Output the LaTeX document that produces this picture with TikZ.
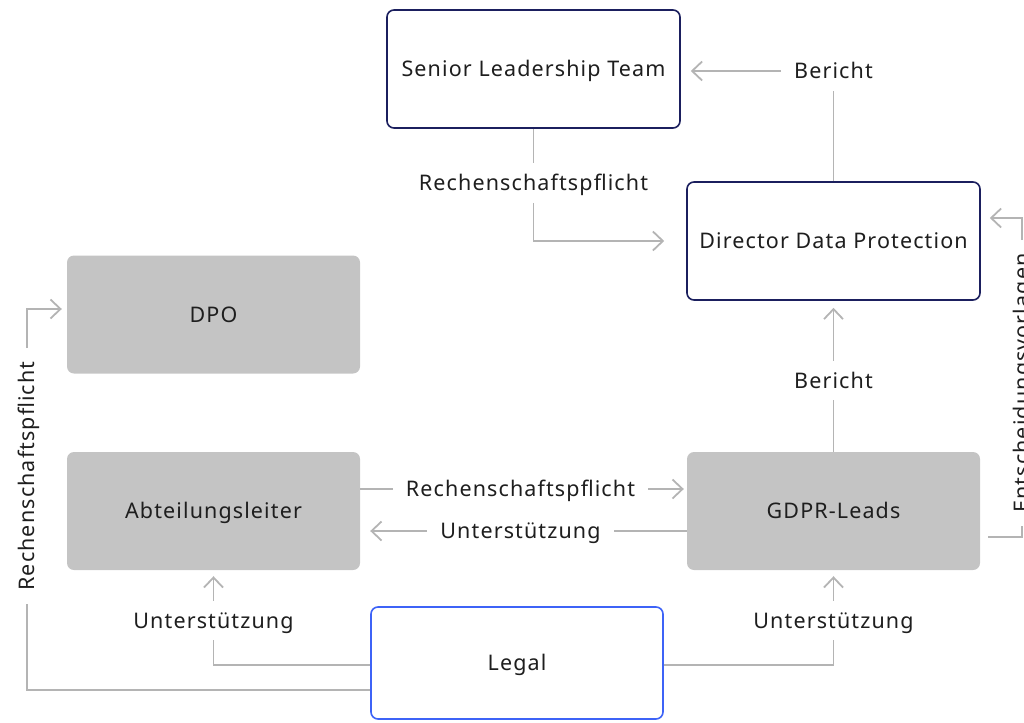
\documentclass[tikz,border=0pt]{standalone}
\usepackage{fontspec}
\setmainfont{Noto Sans}[LetterSpace=5.2]
\usetikzlibrary{arrows.meta}
\definecolor{boxgray}{HTML}{C4C4C4}
\definecolor{navy}{HTML}{1B1F5E}
\definecolor{legalblue}{HTML}{3D63F7}
\definecolor{linegray}{HTML}{B4B4B4}
\definecolor{ink}{HTML}{1E1E1E}
\newcommand{\labelfont}{\fontsize{21.5}{26}\selectfont}
\begin{document}
\begin{tikzpicture}[x=1pt,y=-1pt,
  box/.style={minimum width=293pt, minimum height=118pt, rounded corners=7pt,
    inner sep=0pt, font=\labelfont, text=ink, text height=15.5pt, text depth=0pt},
  whitebox/.style={box, draw=navy, line width=1.6pt, fill=white},
  graybox/.style={box, fill=boxgray},
  bluebox/.style={box, draw=legalblue, line width=1.6pt, fill=white},
  conn/.style={draw=linegray, line width=1.8pt},
  arr/.style={conn, -{Straight Barb[length=10pt,width=19pt,line width=1.8pt]}},
  lbl/.style={font=\labelfont, text=ink, inner xsep=13pt, inner ysep=12pt,
    text height=15.5pt, text depth=0pt},
  vlbl/.style={lbl, rotate=90}
]
\useasboundingbox (0,0) rectangle (1024,722);

% boxes
\node[whitebox] (slt)   at (533.5,69)    {Senior Leadership Team};
\node[whitebox] (ddp)   at (833.5,241)   {Director Data Protection};
\node[graybox]  (dpo)   at (213.5,314.5) {DPO};
\node[graybox]  (abt)   at (213.5,511)   {Abteilungsleiter};
\node[graybox]  (gdpr)  at (833.5,511)   {GDPR-Leads};
\node[bluebox, minimum width=292pt, minimum height=112pt] (legal) at (517,663) {Legal};

% edge labels
\node[lbl]  (r1) at (533.5,183)   {Rechenschaftspflicht};
\node[lbl]  (b1) at (833.5,71)    {Bericht};
\node[lbl]  (b2) at (833.5,380.5) {Bericht};
\node[lbl]  (r2) at (520.5,489)   {Rechenschaftspflicht};
\node[lbl]  (u1) at (520.5,531)   {Unterstützung};
\node[lbl]  (u2) at (213.5,620.5) {Unterstützung};
\node[lbl]  (u3) at (833.5,620.5) {Unterstützung};
\node[vlbl] (r3) at (27,476)      {Rechenschaftspflicht};
\node[vlbl] (e1) at (1022,383)    {Entscheidungsvorlagen};

% bends and levels of the routed connectors
\coordinate (ly)  at (0,665);
\coordinate (ly2) at (0,690);
\coordinate (dy)  at (0,309);
\coordinate (et)  at (1022,218);
\coordinate (eb)  at (1022,537);

% Senior Leadership Team <-> Director Data Protection
\draw[conn] (slt.south) -- (r1.north);
\draw[arr, shorten >=22pt] (r1.south) |- (ddp.west);
\draw[conn] (ddp.north) -- (b1.south);
\draw[arr, shorten >=10pt] (b1.west) -- (slt.east |- b1.west);

% GDPR-Leads -> Director Data Protection
\draw[conn] (gdpr.north) -- (b2.south);
\draw[arr, shorten >=7pt] (b2.north) -- (ddp.south);
\draw[conn] ([xshift=8pt]gdpr.east |- eb) -- (eb) -- (e1.west);
\draw[arr, shorten >=9pt] (e1.east) -- (et) -- (ddp.east |- et);

% Abteilungsleiter <-> GDPR-Leads
\draw[conn] (abt.east |- r2) -- (r2.west);
\draw[arr, shorten >=3pt] (r2.east) -- (gdpr.west |- r2);
\draw[conn] (gdpr.west |- u1) -- (u1.east);
\draw[arr, shorten >=10pt] (u1.west) -- (abt.east |- u1);

% Legal -> Abteilungsleiter, GDPR-Leads, DPO
\draw[conn] (legal.west |- ly) -| (u2.south);
\draw[arr, shorten >=6pt] (u2.north) -- (abt.south -| u2);
\draw[conn] (legal.east |- ly) -| (u3.south);
\draw[arr, shorten >=6pt] (u3.north) -- (gdpr.south -| u3);
\draw[conn] (legal.west |- ly2) -| (r3.west);
\draw[arr, shorten >=5pt] (r3.east) |- (dpo.west |- dy);
\end{tikzpicture}
\end{document}
